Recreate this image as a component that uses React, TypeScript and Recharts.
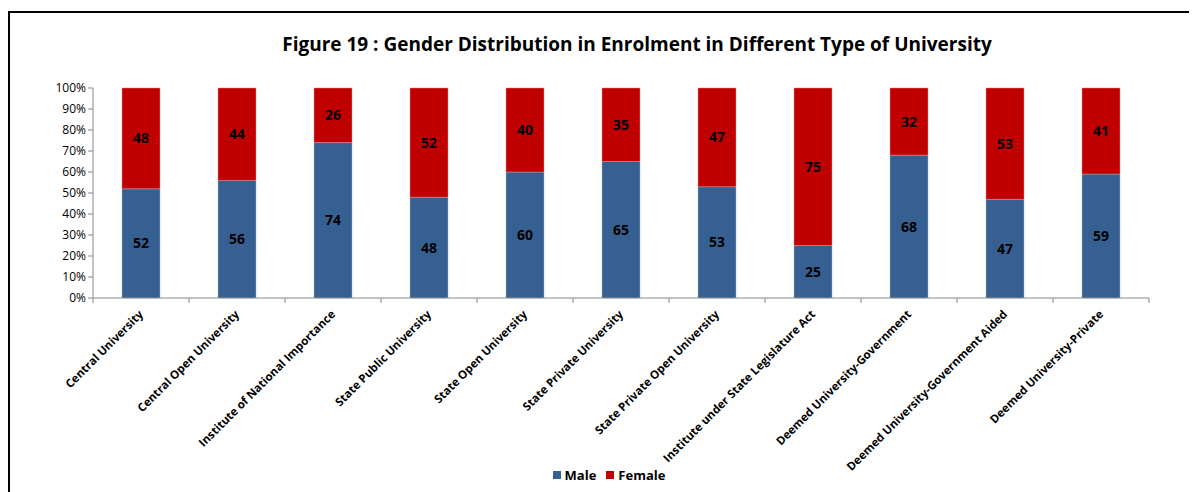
import React from "react";
import { Bar, BarChart, LabelList, Legend, XAxis, YAxis } from "recharts";

const categories = [
  "Central University",
  "Central Open University",
  "Institute of National Importance",
  "State Public University",
  "State Open University",
  "State Private University",
  "State Private Open University",
  "Institute under State Legislature Act",
  "Deemed University-Government",
  "Deemed University-Government Aided",
  "Deemed University-Private",
];
const male = [52, 56, 74, 48, 60, 65, 53, 25, 68, 47, 59];
const female = [48, 44, 26, 52, 40, 35, 47, 75, 32, 53, 41];
const yTicks = [0, 10, 20, 30, 40, 50, 60, 70, 80, 90, 100];

const data = categories.map((name, i) => ({ name, male: male[i], female: female[i] }));

const FONT = "'Open Sans', 'Liberation Sans', sans-serif";
const W = 1189;
const H = 484;
const MARGIN = { top: 80, right: 48, left: 35, bottom: 4 };
const Y_W = 50;
const BAND = (W - MARGIN.left - MARGIN.right - Y_W) / categories.length;

const CategoryTick = (props: any) => {
  const { x, y, payload, index } = props;
  return (
    <g>
      <line x1={x - BAND / 2} x2={x - BAND / 2} y1={y - 8} y2={y - 3} stroke="#868686" />
      {index === categories.length - 1 && (
        <line x1={x + BAND / 2} x2={x + BAND / 2} y1={y - 8} y2={y - 3} stroke="#868686" />
      )}
      <text
        x={x + 3}
        y={y + 9}
        transform={`rotate(-45 ${x + 3} ${y + 9})`}
        textAnchor="end"
        fontSize={11.5}
        fontWeight="bold"
        fill="#000"
        fontFamily={FONT}
      >
        {payload.value}
      </text>
    </g>
  );
};

const LegendBox = () => (
  <div
    style={{
      display: "flex",
      justifyContent: "center",
      gap: 10,
      paddingLeft: 26,
      fontFamily: FONT,
      fontSize: 13,
      fontWeight: "bold",
    }}
  >
    {[
      ["Male", "#376092"],
      ["Female", "#C00000"],
    ].map(([n, c]) => (
      <span key={n} style={{ display: "flex", alignItems: "center", gap: 4 }}>
        <span style={{ width: 8, height: 8, background: c, display: "inline-block" }} />
        {n}
      </span>
    ))}
  </div>
);

export default function App() {
  return (
    <div style={{ position: "relative", width: W, height: H }}>
      <div
        style={{
          position: "absolute",
          left: 0,
          top: 3,
          width: W + 20,
          height: H + 20,
          border: "2px solid #000",
          boxSizing: "border-box",
        }}
      />
      <div
        style={{
          position: "absolute",
          top: 23,
          left: 637 - 8 - 400,
          width: 800,
          textAlign: "center",
          fontFamily: FONT,
          fontWeight: "bold",
          fontSize: 19,
          color: "#000",
        }}
      >
        Figure 19 : Gender Distribution in Enrolment in Different Type of University
      </div>
      <BarChart width={W} height={H} data={data} margin={MARGIN} barCategoryGap={29}>
        <XAxis
          dataKey="name"
          interval={0}
          height={168}
          tickLine={false}
          stroke="#868686"
          tick={<CategoryTick />}
        />
        <YAxis
          width={Y_W}
          domain={[0, 100]}
          ticks={yTicks}
          tickFormatter={(v) => `${v}%`}
          stroke="#868686"
          tickSize={5}
          tick={{ fill: "#000", fontSize: 12, fontFamily: FONT }}
        />
        <Legend verticalAlign="bottom" height={22} content={<LegendBox />} />
        <Bar dataKey="male" name="Male" stackId="a" fill="#376092" stroke="#9db3cf" strokeWidth={0.5} isAnimationActive={false}>
          <LabelList dataKey="male" position="center" fill="#000" fontSize={14} fontWeight="bold" fontFamily={FONT} />
        </Bar>
        <Bar dataKey="female" name="Female" stackId="a" fill="#C00000" stroke="#e08a8a" strokeWidth={0.5} isAnimationActive={false}>
          <LabelList dataKey="female" position="center" fill="#000" fontSize={14} fontWeight="bold" fontFamily={FONT} />
        </Bar>
      </BarChart>
    </div>
  );
}
